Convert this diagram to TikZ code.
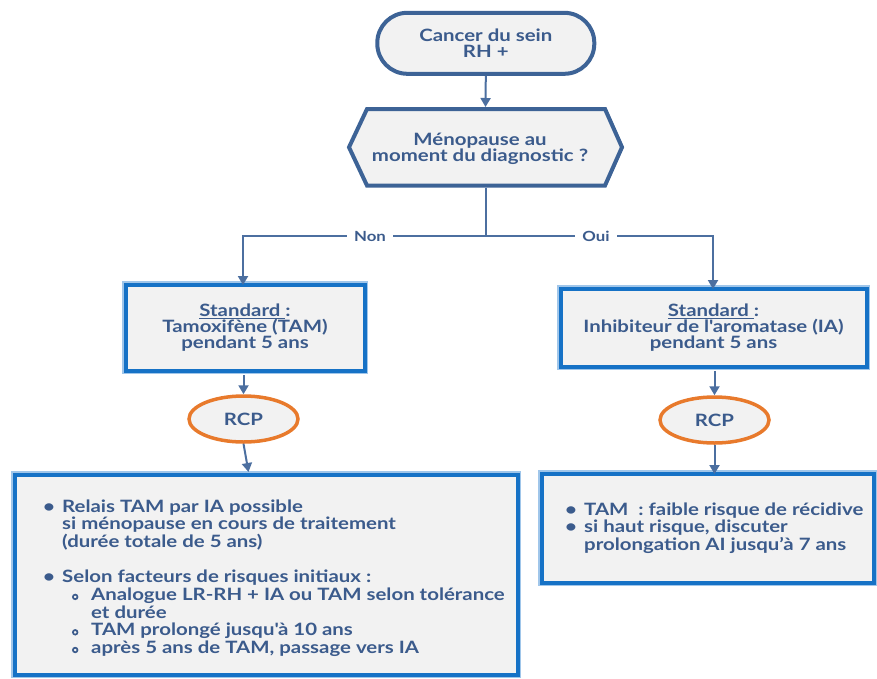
\documentclass[tikz,border=0pt]{standalone}
\usepackage{fontspec}
\usepackage{pict2e}
\setmainfont{Lato}[FakeStretch=1.2]
\usetikzlibrary{arrows.meta,shapes.geometric}

\definecolor{txt}{RGB}{59,91,140}
\definecolor{flowline}{RGB}{76,111,160}
\definecolor{frame}{RGB}{61,99,150}
\definecolor{boxblue}{RGB}{22,114,198}
\definecolor{halo}{RGB}{160,198,234}
\definecolor{panel}{RGB}{242,242,242}
\definecolor{rcpline}{RGB}{232,122,44}

\setlength{\unitlength}{1pt}
\newcommand\bul{\makebox[19pt][l]{•}}
% hollow second-level bullet
\newcommand\subbul{\makebox[19pt][l]{\begin{picture}(6,6)\linethickness{1.7pt}\put(3,3.6){\circle{4.6}}\end{picture}}}

\tikzset{
  every node/.style={text=txt, font=\fontsize{17}{16}\selectfont\bfseries},
  terminal/.style={draw=frame, line width=4pt, fill=panel, rounded corners=30pt,
    minimum width=217pt, minimum height=61pt, inner sep=0pt, align=center},
  stdbox/.style={draw=boxblue, line width=4pt, fill=panel, inner sep=0pt, align=center,
    preaction={draw=halo, line width=6.5pt}},
  rcpnode/.style={ellipse, draw=rcpline, line width=3.5pt, fill=panel,
    minimum width=109pt, minimum height=46pt, inner sep=0pt},
  flow/.style={draw=flowline, line width=2pt},
  flowarrow/.style={flow, -{Triangle[width=10pt,length=9pt]}},
  choice/.style={fill=white, inner xsep=7pt, inner ysep=2pt, font=\fontsize{14}{14}\selectfont\bfseries},
  listtext/.style={inner sep=0pt, anchor=base west, font=\fontsize{17}{17.7}\selectfont\bfseries}
}

\begin{document}
\begin{tikzpicture}[x=1pt,y=-1pt]
\useasboundingbox (0,0) rectangle (877,678);

% start of the pathway
\node[terminal] (start) at (485.8,43.3) {Cancer du sein\\RH +};

% decision hexagon
\draw[draw=frame, line width=4pt, fill=panel]
  (367,109) -- (605,109) -- (622,147.25) -- (605,185.5) -- (367,185.5) -- (349,147.25) -- cycle;
\node[align=center] (question) at (480,148.5) {Ménopause au\\moment du diagnostic ?};
\coordinate (qN) at (485.5,107);
\coordinate (qS) at (485.5,187.5);

% standard treatments
\node[stdbox, minimum width=239pt, minimum height=86pt] (stdL) at (245,327.5)
  {\underline{Standard }:\\Tamoxifène (TAM)\\pendant 5 ans};
\node[stdbox, minimum width=306pt, minimum height=78pt] (stdR) at (713.5,327.5)
  {\underline{Standard }:\\Inhibiteur de l\textquotesingle aromatase (IA)\\pendant 5 ans};

% multidisciplinary meetings
\node[rcpnode] (rcpL) at (243.5,419) {RCP};
\node[rcpnode] (rcpR) at (714.5,420) {RCP};

% follow-up options
\node[stdbox, minimum width=503pt, minimum height=200pt] (listL) at (266,574.5) {};
\node[stdbox, minimum width=332pt, minimum height=109pt] (listR) at (707.5,528) {};

\node[listtext] (itemsL) at (43,512) {\parbox[t]{470pt}{\raggedright
  \bul Relais TAM par IA possible\\
  \hspace*{19pt}si ménopause en cours de traitement\\
  \hspace*{19pt}(durée totale de 5 ans)\\[17.7pt]
  \bul Selon facteurs de risques initiaux :\\
  \hspace*{29pt}\subbul Analogue LR-RH + IA ou TAM selon tolérance\\
  \hspace*{48pt}et durée\\
  \hspace*{29pt}\subbul TAM prolongé jusqu\textquotesingle à 10 ans\\
  \hspace*{29pt}\subbul après 5 ans de TAM, passage vers IA}};

\node[listtext] (itemsR) at (565,515) {\parbox[t]{310pt}{\raggedright
  \makebox[19pt][l]{•}TAM\ \ : faible risque de récidive\\
  \makebox[19pt][l]{•}si haut risque, discuter\\
  \hspace*{19pt}prolongation AI jusqu’à 7 ans}};

% connectors
\coordinate (split) at (485.5,236);
\coordinate (turnL) at (243,236);
\coordinate (turnR) at (713,236);
\coordinate (inL) at (248.5,472);

\draw[flowarrow] (start.south) -- (qN);
\draw[flow] (qS) -- (split);
\draw[flowarrow, shorten >=-2.5pt] (split) -- (turnL) -- (turnL |- stdL.north);
\draw[flowarrow, shorten >=-2.5pt] (split) -- (turnR) -- (turnR |- stdR.north);
\node[choice] (non) at (370,236) {Non};
\node[choice] (oui) at (596,236) {Oui};

\draw[flowarrow, shorten <=2.5pt] (rcpL.north |- stdL.south) -- (rcpL.north);
\draw[flowarrow] (rcpL.south) -- (inL);
\draw[flowarrow, shorten <=2.5pt] (rcpR.north |- stdR.south) -- (rcpR.north);
\draw[flowarrow, shorten >=-2.5pt] (rcpR.south) -- (rcpR.south |- listR.north);
\end{tikzpicture}
\end{document}
